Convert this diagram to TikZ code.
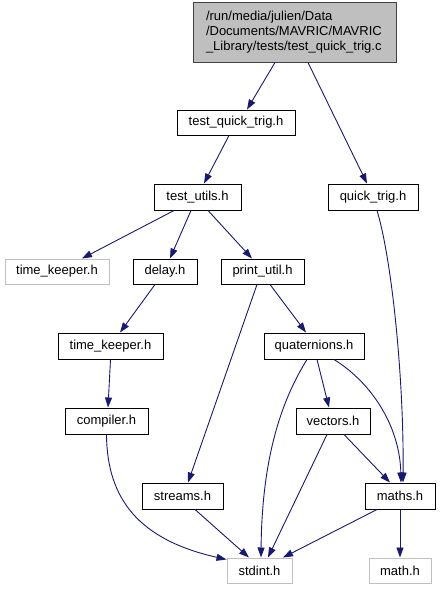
\documentclass[tikz,border=0pt]{standalone}
\usepackage{fontspec}
\setmainfont{Liberation Sans}
\usetikzlibrary{arrows.meta}
\definecolor{edgeblue}{HTML}{191970}
\definecolor{rootgray}{HTML}{BFBFBF}
\definecolor{undocgray}{HTML}{BFBFBF}
\begin{document}
\begin{tikzpicture}[x=1pt,y=-1pt,
  every node/.style={font=\fontsize{13}{15}\selectfont, inner sep=0pt},
  filebox/.style={draw=black, line width=1pt, rectangle, fill=white},
  undoc/.style={draw=undocgray, line width=1pt, rectangle, fill=white},
  dep/.style={draw=edgeblue, line width=0.9pt, -{Triangle[length=10pt,width=7pt]}, fill=none},
]
\useasboundingbox (0,0) rectangle (440,589);
% nodes
\node[filebox, fill=rootgray, draw=black!75, minimum width=203pt, minimum height=60pt,
      text width=177pt, align=left, inner xsep=13pt] (root) at (294.5,32)
  {/run/media/julien/Data\\/Documents/MAVRIC/MAVRIC\\\_Library/tests/test\_quick\_trig.c};
\node[filebox, minimum width=118pt, minimum height=25pt] (tqt) at (236,122.5) {test\_quick\_trig.h};
\node[filebox, minimum width=87pt, minimum height=26pt] (tu) at (197.5,197) {test\_utils.h};
\node[filebox, minimum width=90pt, minimum height=26pt] (qt) at (373,197) {quick\_trig.h};
\node[undoc, minimum width=104pt, minimum height=25pt] (tka) at (57,271.5) {time\_keeper.h};
\node[filebox, minimum width=64pt, minimum height=25pt] (delay) at (165,271.5) {delay.h};
\node[filebox, minimum width=83pt, minimum height=25pt] (pu) at (262.5,271.5) {print\_util.h};
\node[filebox, minimum width=105pt, minimum height=26pt] (tkb) at (110.5,346) {time\_keeper.h};
\node[filebox, minimum width=100pt, minimum height=26pt] (quat) at (314,346) {quaternions.h};
\node[filebox, minimum width=83pt, minimum height=26pt] (comp) at (106.5,421) {compiler.h};
\node[filebox, minimum width=74pt, minimum height=26pt] (vec) at (333,421) {vectors.h};
\node[filebox, minimum width=81pt, minimum height=26pt] (streams) at (182.5,496) {streams.h};
\node[filebox, minimum width=70pt, minimum height=26pt] (maths) at (400,496) {maths.h};
\node[undoc, minimum width=65pt, minimum height=25pt] (stdint) at (259.5,570.5) {stdint.h};
\node[undoc, minimum width=62pt, minimum height=25pt] (math) at (400,570.5) {math.h};
% edges
\draw[dep] ([xshift=-19.5pt]root.south) -- ([xshift=11pt]tqt.north);
\draw[dep] ([xshift=13.5pt]root.south) -- ([xshift=-6pt]qt.north);
\draw[dep] ([xshift=-7pt]tqt.south) -- ([xshift=6.5pt]tu.north);
\draw[dep] ([xshift=-23.5pt]tu.south) -- ([xshift=25pt]tka.north);
\draw[dep] ([xshift=-6.5pt]tu.south) -- ([xshift=5pt]delay.north);
\draw[dep] ([xshift=10.5pt]tu.south) -- ([xshift=-10.5pt]pu.north);
\draw[dep] ([xshift=-10pt]delay.south) -- ([xshift=9.5pt]tkb.north);
\draw[dep] ([xshift=-5.5pt]pu.south) -- ([xshift=5.5pt]streams.north);
\draw[dep] ([xshift=7.5pt]pu.south) -- ([xshift=-8pt]quat.north);
\draw[dep] (tkb.south) -- ([xshift=1.5pt]comp.north);
\draw[dep] ([xshift=-7pt]quat.south) .. controls (285,395) and (262,450) .. ([xshift=1.5pt]stdint.north);
\draw[dep] ([xshift=3pt]quat.south) -- ([xshift=-4pt]vec.north);
\draw[dep] ([xshift=20pt]quat.south) .. controls (375,385) and (400,430) .. ([xshift=1pt]maths.north);
\draw[dep] ([xshift=4pt]qt.south) .. controls (392,260) and (404,380) .. ([xshift=3pt]maths.north);
\draw[dep] (comp.south) .. controls (107,500) and (140,540) .. ([yshift=-2pt]stdint.north west);
\draw[dep] ([xshift=12.5pt]streams.south) -- ([xshift=-10.5pt]stdint.north);
\draw[dep] ([xshift=-6pt]vec.south) -- ([xshift=8.5pt]stdint.north);
\draw[dep] ([xshift=11pt]vec.south) -- ([xshift=-10pt]maths.north);
\draw[dep] ([xshift=-23pt]maths.south) -- ([xshift=23.5pt]stdint.north);
\draw[dep] (maths.south) -- (math.north);
\end{tikzpicture}
\end{document}
